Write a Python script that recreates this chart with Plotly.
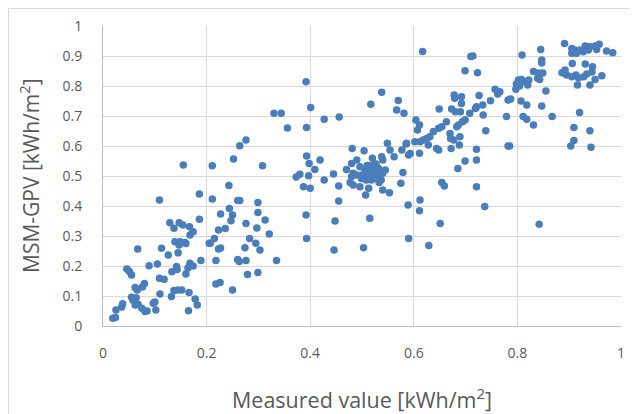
import plotly.graph_objects as go

# Measured value [kWh/m2] vs MSM-GPV [kWh/m2]
pts_low = [
    (0.019,0.026),(0.024,0.028),(0.025,0.053),(0.036,0.063),(0.038,0.074),
    (0.046,0.19),(0.051,0.182),(0.055,0.17),
    (0.055,0.096),(0.058,0.086),(0.064,0.094),(0.062,0.07),(0.068,0.072),(0.075,0.059),(0.081,0.048),(0.085,0.05),
    (0.062,0.128),(0.066,0.12),(0.076,0.13),(0.08,0.142),
    (0.067,0.257),(0.089,0.201),(0.105,0.207),
    (0.097,0.076),(0.102,0.053),(0.1,0.08),
    (0.11,0.107),(0.132,0.098),(0.137,0.118),(0.144,0.12),(0.152,0.12),(0.166,0.112),(0.178,0.09),(0.182,0.07),(0.165,0.051),
    (0.109,0.159),(0.118,0.156),
    (0.113,0.259),(0.126,0.237),(0.145,0.244),
    (0.109,0.42),
    (0.129,0.344),(0.137,0.326),(0.147,0.344),(0.154,0.337),(0.167,0.331),(0.174,0.314),(0.168,0.303),
    (0.139,0.281),(0.149,0.281),(0.158,0.278),(0.147,0.27),(0.16,0.275),
    (0.186,0.356),(0.186,0.44),(0.155,0.537),
    (0.205,0.276),(0.189,0.218),(0.168,0.209),(0.174,0.2),(0.164,0.193),(0.16,0.173),
    (0.142,0.198),(0.143,0.188),(0.133,0.181),
    (0.211,0.534),(0.211,0.423),
]
pts_midleft = [
    (0.243,0.468),(0.252,0.557),(0.264,0.601),(0.276,0.62),(0.308,0.534),
    (0.26,0.418),(0.264,0.418),(0.299,0.412),(0.244,0.392),(0.227,0.373),(0.25,0.37),(0.247,0.351),
    (0.299,0.378),(0.313,0.353),(0.276,0.342),(0.297,0.327),(0.321,0.307),
    (0.223,0.32),(0.236,0.325),(0.215,0.292),(0.207,0.276),(0.223,0.257),(0.227,0.26),
    (0.283,0.292),(0.295,0.276),(0.303,0.253),(0.274,0.261),
    (0.218,0.218),(0.26,0.222),(0.263,0.215),(0.276,0.218),(0.335,0.218),
    (0.279,0.172),(0.299,0.178),(0.218,0.14),(0.226,0.145),(0.25,0.12),
]
pts_mid = [
    (0.33,0.709),(0.344,0.709),(0.356,0.66),
    (0.392,0.814),(0.401,0.728),(0.393,0.662),(0.427,0.689),(0.456,0.697),
    (0.393,0.567),(0.398,0.542),(0.419,0.553),(0.409,0.522),(0.397,0.501),(0.373,0.497),(0.38,0.506),
    (0.387,0.464),(0.4,0.459),(0.427,0.487),(0.445,0.507),(0.455,0.467),(0.455,0.417),
    (0.392,0.37),(0.448,0.35),(0.393,0.292),(0.446,0.253),
]
pts_cluster = [
    (0.47,0.522),(0.48,0.542),(0.49,0.553),(0.481,0.592),(0.504,0.584),(0.52,0.559),(0.538,0.564),(0.54,0.553),
    (0.496,0.531),(0.51,0.535),(0.517,0.535),(0.527,0.54),(0.506,0.52),(0.515,0.52),(0.525,0.52),(0.532,0.525),
    (0.545,0.52),(0.483,0.509),(0.49,0.503),(0.5,0.503),(0.51,0.503),(0.52,0.503),(0.53,0.503),(0.54,0.509),
    (0.48,0.498),(0.499,0.492),(0.508,0.487),(0.518,0.487),(0.527,0.492),(0.537,0.487),(0.477,0.478),
    (0.483,0.47),(0.496,0.464),(0.513,0.459),(0.507,0.437),(0.533,0.478),(0.54,0.453),(0.553,0.444),
    (0.515,0.359),(0.503,0.261),(0.517,0.739),(0.538,0.779),
]
pts_midright = [
    (0.549,0.609),(0.554,0.587),(0.562,0.564),(0.577,0.587),(0.585,0.607),(0.59,0.57),(0.575,0.476),(0.579,0.512),
    (0.57,0.752),(0.567,0.72),(0.581,0.709),
    (0.589,0.403),(0.59,0.292),(0.612,0.42),(0.611,0.384),(0.629,0.268),(0.617,0.915),
    (0.604,0.687),(0.611,0.67),(0.607,0.653),(0.586,0.609),(0.593,0.575),(0.611,0.576),(0.602,0.614),
    (0.612,0.614),(0.618,0.62),(0.625,0.625),(0.631,0.631),(0.638,0.648),(0.648,0.659),(0.654,0.664),
    (0.663,0.681),(0.649,0.723),(0.628,0.603),(0.644,0.592),(0.648,0.587),
    (0.654,0.478),(0.659,0.467),(0.651,0.342),
]
pts_right = [
    (0.671,0.625),(0.677,0.62),(0.689,0.631),(0.688,0.603),(0.672,0.592),(0.67,0.642),
    (0.71,0.898),(0.714,0.9),(0.699,0.851),(0.723,0.844),
    (0.757,0.789),(0.762,0.773),(0.678,0.77),(0.692,0.764),(0.679,0.759),(0.726,0.768),(0.748,0.751),
    (0.733,0.737),(0.721,0.731),(0.719,0.725),(0.692,0.742),(0.673,0.723),(0.68,0.714),(0.69,0.714),
    (0.708,0.709),(0.734,0.703),(0.699,0.687),(0.694,0.681),(0.686,0.67),(0.683,0.664),
    (0.779,0.698),(0.782,0.753),(0.739,0.651),(0.721,0.589),(0.782,0.6),(0.699,0.55),(0.721,0.553),
    (0.685,0.525),(0.721,0.464),(0.737,0.398),(0.766,0.781),(0.787,0.757),
]
pts_far = [
    (0.809,0.903),(0.845,0.922),(0.847,0.887),(0.847,0.877),(0.831,0.848),(0.841,0.843),(0.849,0.843),
    (0.839,0.826),(0.843,0.822),(0.802,0.82),(0.808,0.822),(0.814,0.814),(0.822,0.82),(0.798,0.807),
    (0.804,0.8),(0.82,0.803),(0.797,0.789),(0.855,0.783),(0.807,0.75),(0.818,0.737),(0.847,0.733),
    (0.811,0.698),(0.818,0.689),(0.831,0.67),(0.867,0.698),(0.785,0.6),(0.842,0.339),
    (0.891,0.942),(0.905,0.925),(0.911,0.92),(0.921,0.92),(0.931,0.933),(0.94,0.931),(0.95,0.933),
    (0.958,0.939),(0.905,0.909),(0.914,0.909),(0.927,0.914),(0.937,0.92),(0.953,0.922),(0.972,0.917),
    (0.984,0.911),(0.906,0.875),(0.931,0.873),(0.945,0.864),(0.886,0.844),(0.892,0.853),(0.895,0.837),
    (0.905,0.831),(0.913,0.837),(0.918,0.827),(0.928,0.831),(0.934,0.84),(0.944,0.847),(0.95,0.822),
    (0.963,0.834),(0.916,0.803),(0.94,0.803),
    (0.92,0.712),(0.909,0.662),(0.94,0.651),(0.909,0.618),(0.903,0.6),(0.942,0.596),
]

all_pts = pts_low + pts_midleft + pts_mid + pts_cluster + pts_midright + pts_right + pts_far
measured = [p[0] for p in all_pts]
msm_gpv = [p[1] for p in all_pts]

x_ticks = [0, 0.2, 0.4, 0.6, 0.8, 1]
x_tick_labels = ["0", "0.2", "0.4", "0.6", "0.8", "1"]
y_ticks = [0, 0.1, 0.2, 0.3, 0.4, 0.5, 0.6, 0.7, 0.8, 0.9, 1]
y_tick_labels = ["0", "0.1", "0.2", "0.3", "0.4", "0.5", "0.6", "0.7", "0.8", "0.9", "1"]

FONT = "Open Sans, Liberation Sans, sans-serif"
GREY = "#595959"

fig = go.Figure()
fig.add_trace(go.Scatter(
    x=measured, y=msm_gpv, mode="markers",
    marker=dict(color="#4a7ebb", size=7.5, line=dict(width=0)),
    showlegend=False, hoverinfo="x+y",
))

# the page body has an 8px margin, so the figure is offset by (8, 8)
W, H = 629, 406
L, T = 95, 18
pw, ph = 518, 300
R, B = W - L - pw, H - T - ph


def px_x(fx):
    return (fx - L) / pw


def px_y(fy):
    return (T + ph - fy) / ph


fig.update_layout(
    width=W, height=H,
    margin=dict(l=L, r=R, t=T, b=B, autoexpand=False),
    paper_bgcolor="white", plot_bgcolor="white",
    font=dict(family=FONT, color=GREY, size=14),
    xaxis=dict(range=[0, 1], tickvals=x_ticks, ticktext=x_tick_labels,
               showgrid=True, gridcolor="#d9d9d9", gridwidth=1,
               zeroline=False, showline=True, linecolor="#bfbfbf", linewidth=1,
               ticks="", ticklabelstandoff=14, fixedrange=True,
               tickfont=dict(size=14, color=GREY, family=FONT)),
    yaxis=dict(range=[0, 1], tickvals=y_ticks, ticktext=y_tick_labels,
               showgrid=True, gridcolor="#d9d9d9", gridwidth=1,
               zeroline=False, showline=True, linecolor="#bfbfbf", linewidth=1,
               ticks="", ticklabelstandoff=17, fixedrange=True,
               tickfont=dict(size=14, color=GREY, family=FONT)),
    annotations=[
        dict(text="Measured value [kWh/m<sup>2</sup>]", xref="paper", yref="paper",
             x=px_x(354), y=px_y(390), showarrow=False,
             xanchor="center", yanchor="middle",
             font=dict(size=21.5, color=GREY, family=FONT)),
        dict(text="MSM-GPV [kWh/m<sup>2</sup>]", xref="paper", yref="paper",
             x=px_x(21), y=px_y(168), showarrow=False, textangle=-90,
             xanchor="center", yanchor="middle",
             font=dict(size=21, color=GREY, family=FONT)),
    ],
    shapes=[
        dict(type="line", xref="paper", yref="paper",
             x0=px_x(0.5), x1=px_x(W), y0=px_y(0.5), y1=px_y(0.5),
             line=dict(color="#d9d9d9", width=1)),
        dict(type="line", xref="paper", yref="paper",
             x0=px_x(0.5), x1=px_x(0.5), y0=px_y(0.5), y1=px_y(H),
             line=dict(color="#d9d9d9", width=1)),
    ],
)

fig.write_html("out.html")
